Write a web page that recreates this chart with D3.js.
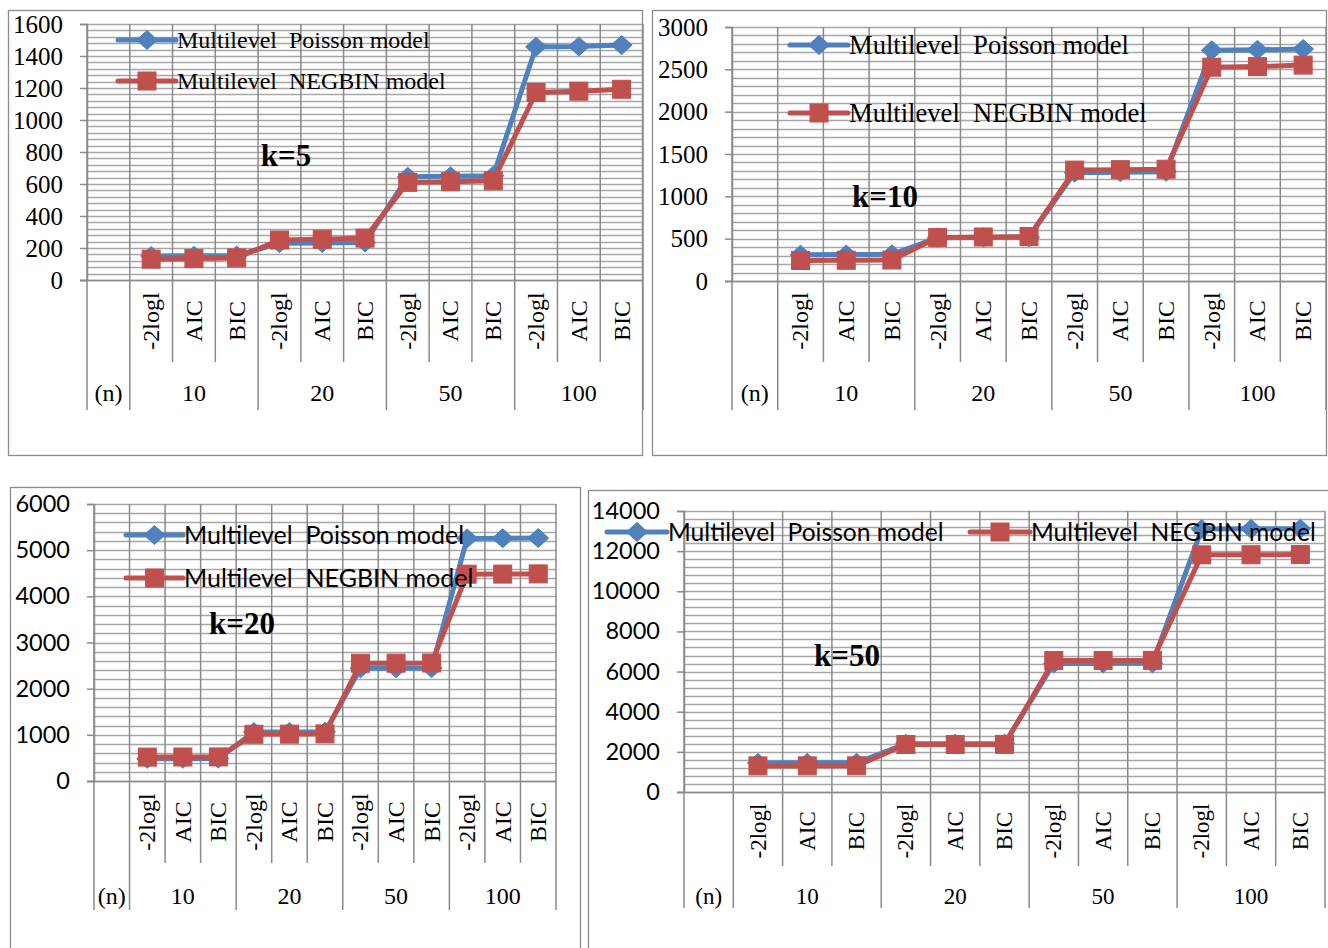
<!DOCTYPE html>
<html><head><meta charset="utf-8">
<script src="https://cdn.jsdelivr.net/npm/d3@7"></script>
<style>
body{margin:0;background:#fff}
svg{display:block}
text{white-space:pre}
</style>
</head><body>
<svg id="chart" width="1328" height="948"></svg>
<script>
// Category axis: an empty "(n)" slot, then three criteria for each sample size
const criteria = ["-2logl", "AIC", "BIC"];
const sampleSizes = ["10", "20", "50", "100"];
const outerHeader = "(n)";
const legendNames = ["Multilevel  Poisson model", "Multilevel  NEGBIN model"];
const panelTitles = ["k=5", "k=10", "k=20", "k=50"];

// Fit statistics per k, ordered 10:-2logl,AIC,BIC, 20:..., 50:..., 100:...
const poissonK5  = [150, 151, 153,  230, 232, 235,  645, 648, 652,  1458, 1460, 1468];
const negbinK5   = [130, 134, 138,  250, 255, 262,  610, 614, 620,  1172, 1180, 1192];
const poissonK10 = [310, 312, 315,  510, 514, 518,  1280, 1285, 1290,  2725, 2730, 2740];
const negbinK10  = [242, 245, 248,  515, 520, 525,  1310, 1315, 1320,  2525, 2532, 2550];
const poissonK20 = [480, 482, 485,  1060, 1062, 1065,  2440, 2442, 2445,  5255, 5258, 5262];
const negbinK20  = [518, 520, 522,  1012, 1015, 1020,  2550, 2552, 2556,  4480, 4482, 4486];
const poissonK50 = [1450, 1452, 1455,  2400, 2402, 2405,  6400, 6405, 6410,  13100, 13110, 13120];
const negbinK50  = [1300, 1302, 1305,  2365, 2368, 2372,  6550, 6555, 6560,  11815, 11820, 11830];

// Value-axis tick labels
const ticksK5  = [0, 200, 400, 600, 800, 1000, 1200, 1400, 1600];
const ticksK10 = [0, 500, 1000, 1500, 2000, 2500, 3000];
const ticksK20 = [0, 1000, 2000, 3000, 4000, 5000, 6000];
const ticksK50 = [0, 2000, 4000, 6000, 8000, 10000, 12000, 14000];

const BLUE = "#4F81BD", RED = "#C0504D";
const SERIF = "'Liberation Serif','Times New Roman',serif";
const SANS = "Lato,'Open Sans',sans-serif";

const panels = [
  { title: panelTitles[0], series: [poissonK5, negbinK5], ticks: ticksK5, minor: 40,
    frame: [8, 10, 642, 455], left: 87, right: 643, top: 24, zero: 280,
    innerBottom: 362, outerBottom: 410, innerY: 321, outerY: 393,
    tickFont: SERIF, tickSize: 25, legendFont: SERIF, legendSize: 24, catSize: 24,
    legend: [{x0: 118, x1: 176, y: 40}, {x0: 118, x1: 176, y: 81}],
    titlePos: [286, 155] },
  { title: panelTitles[1], series: [poissonK10, negbinK10], ticks: ticksK10, minor: 100,
    frame: [652, 10, 1326, 455], left: 732, right: 1326, top: 27, zero: 281,
    innerBottom: 362, outerBottom: 410, innerY: 321, outerY: 393,
    tickFont: SERIF, tickSize: 25, legendFont: SERIF, legendSize: 26.6, catSize: 24,
    legend: [{x0: 790, x1: 848, y: 45}, {x0: 790, x1: 848, y: 113}],
    titlePos: [885, 196] },
  { title: panelTitles[2], series: [poissonK20, negbinK20], ticks: ticksK20, minor: 200,
    frame: [10, 487, 580, 970], left: 94, right: 556, top: 504, zero: 781,
    innerBottom: 863, outerBottom: 910, innerY: 822, outerY: 896,
    tickFont: SANS, tickSize: 23.5, legendFont: SANS, legendSize: 25, catSize: 24,
    legend: [{x0: 126, x1: 183, y: 535}, {x0: 126, x1: 183, y: 578}],
    titlePos: [242, 623] },
  { title: panelTitles[3], series: [poissonK50, negbinK50], ticks: ticksK50, minor: 400,
    frame: [588, 490, 1340, 970], left: 684, right: 1325, top: 511, zero: 792,
    innerBottom: 866, outerBottom: 908, innerY: 831, outerY: 896,
    tickFont: SANS, tickSize: 23.5, legendFont: SANS, legendSize: 24.6, catSize: 23,
    legend: [{x0: 607, x1: 667, y: 532}, {x0: 970, x1: 1030, y: 532}],
    titlePos: [847, 655] }
];

const svg = d3.select("#chart");
svg.append("rect").attr("width", 1328).attr("height", 948).attr("fill", "#fff");

// Slot labels: first slot empty, then criteria repeated per sample size
const slotLabels = [""].concat(...sampleSizes.map(() => criteria));
const groups = [{label: outerHeader, start: 0, end: 1}].concat(
  sampleSizes.map((s, i) => ({label: s, start: 1 + i * criteria.length, end: 1 + (i + 1) * criteria.length})));
const groupEdges = new Set(groups.flatMap(g => [g.start, g.end]));

const diamond = "M0,-9.5L10.5,0L0,9.5L-10.5,0Z";
function drawMarker(g, type, color) {
  if (type === 0) {
    g.append("path").attr("d", diamond).attr("fill", color).attr("stroke", color).attr("stroke-width", 1);
  } else {
    g.append("rect").attr("x", -9).attr("y", -9).attr("width", 18).attr("height", 18)
      .attr("fill", color).attr("stroke", color).attr("stroke-width", 1);
  }
}

panels.forEach(p => {
  const g = svg.append("g");
  const [fx0, fy0, fx1, fy1] = p.frame;
  g.append("rect").attr("x", fx0 + 0.5).attr("y", fy0 + 0.5)
    .attr("width", fx1 - fx0).attr("height", fy1 - fy0)
    .attr("fill", "none").attr("stroke", "#8c8c8c").attr("stroke-width", 1.3);

  const x = d3.scaleBand().domain(d3.range(slotLabels.length)).range([p.left, p.right]).padding(0);
  const bw = x.bandwidth();
  const edgeX = i => p.left + i * bw;
  const yMax = p.ticks[p.ticks.length - 1];
  const y = d3.scaleLinear().domain([0, yMax]).range([p.zero, p.top]);

  // Horizontal gridlines (major + minor)
  const minorVals = d3.range(0, yMax + p.minor / 2, p.minor);
  g.append("g").selectAll("line").data(minorVals).join("line")
    .attr("x1", p.left).attr("x2", p.right)
    .attr("y1", d => Math.round(y(d)) + 0.5).attr("y2", d => Math.round(y(d)) + 0.5)
    .attr("stroke", "#a6a6a6").attr("stroke-width", 1.7);

  // Vertical gridlines and category dividers
  g.append("g").selectAll("line").data(d3.range(slotLabels.length + 1)).join("line")
    .attr("x1", i => edgeX(i)).attr("x2", i => edgeX(i))
    .attr("y1", p.top)
    .attr("y2", i => groupEdges.has(i) ? p.outerBottom : p.innerBottom)
    .attr("stroke", "#8a8a8a").attr("stroke-width", 1.5);

  // Value axis
  const axis = d3.axisLeft(y).tickValues(p.ticks).tickSize(7).tickPadding(17).tickFormat(d3.format("d"));
  const ax = g.append("g").attr("transform", `translate(${p.left},0)`).call(axis);
  ax.select(".domain").attr("stroke", "#8a8a8a").attr("stroke-width", 1.5);
  ax.selectAll(".tick line").attr("stroke", "#8a8a8a").attr("stroke-width", 1.5);
  ax.selectAll(".tick text").attr("font-family", p.tickFont).attr("font-size", p.tickSize)
    .attr("fill", "#000");

  // Category axis line
  g.append("line").attr("x1", p.left - 7).attr("x2", p.right)
    .attr("y1", p.zero + 0.5).attr("y2", p.zero + 0.5)
    .attr("stroke", "#8a8a8a").attr("stroke-width", 1.5);

  // Inner (rotated) labels
  g.append("g").selectAll("text").data(slotLabels.map((t, i) => ({t, i})).filter(d => d.t)).join("text")
    .attr("transform", d => `translate(${x(d.i) + bw / 2},${p.innerY}) rotate(-90)`)
    .attr("text-anchor", "middle").attr("dy", "0.33em")
    .attr("font-family", SERIF).attr("font-size", p.catSize).attr("fill", "#000")
    .text(d => d.t);

  // Outer labels
  g.append("g").selectAll("text").data(groups).join("text")
    .attr("x", d => (edgeX(d.start) + edgeX(d.end)) / 2).attr("y", p.outerY)
    .attr("text-anchor", "middle").attr("dy", "0.33em")
    .attr("font-family", SERIF).attr("font-size", p.catSize).attr("fill", "#000")
    .text(d => d.label);

  // Series: lines with markers, NEGBIN drawn on top
  const line = d3.line().x((d, i) => x(i + 1) + bw / 2).y(d => y(d));
  p.series.forEach((vals, si) => {
    const color = si === 0 ? BLUE : RED;
    const sg = g.append("g");
    sg.append("path").datum(vals).attr("d", line).attr("fill", "none")
      .attr("stroke", color).attr("stroke-width", 5).attr("stroke-linejoin", "round");
    vals.forEach((v, i) => {
      const m = sg.append("g").attr("transform", `translate(${x(i + 1) + bw / 2},${y(v)})`);
      drawMarker(m, si, color);
    });
  });

  // Legend
  p.legend.forEach((L, si) => {
    const color = si === 0 ? BLUE : RED;
    const lg = g.append("g");
    lg.append("line").attr("x1", L.x0).attr("x2", L.x1).attr("y1", L.y).attr("y2", L.y)
      .attr("stroke", color).attr("stroke-width", 5).attr("stroke-linecap", "round");
    const m = lg.append("g").attr("transform", `translate(${(L.x0 + L.x1) / 2},${L.y})`);
    drawMarker(m, si, color);
    lg.append("text").attr("x", L.x1 + 1).attr("y", L.y).attr("dy", "0.35em")
      .attr("font-family", p.legendFont).attr("font-size", p.legendSize).attr("fill", "#000")
      .text(legendNames[si]);
  });

  // Panel title
  g.append("text").attr("x", p.titlePos[0]).attr("y", p.titlePos[1]).attr("dy", "0.35em")
    .attr("text-anchor", "middle").attr("font-family", SERIF).attr("font-weight", "bold")
    .attr("font-size", 31).attr("fill", "#000").text(p.title);
});
</script>
</body></html>
